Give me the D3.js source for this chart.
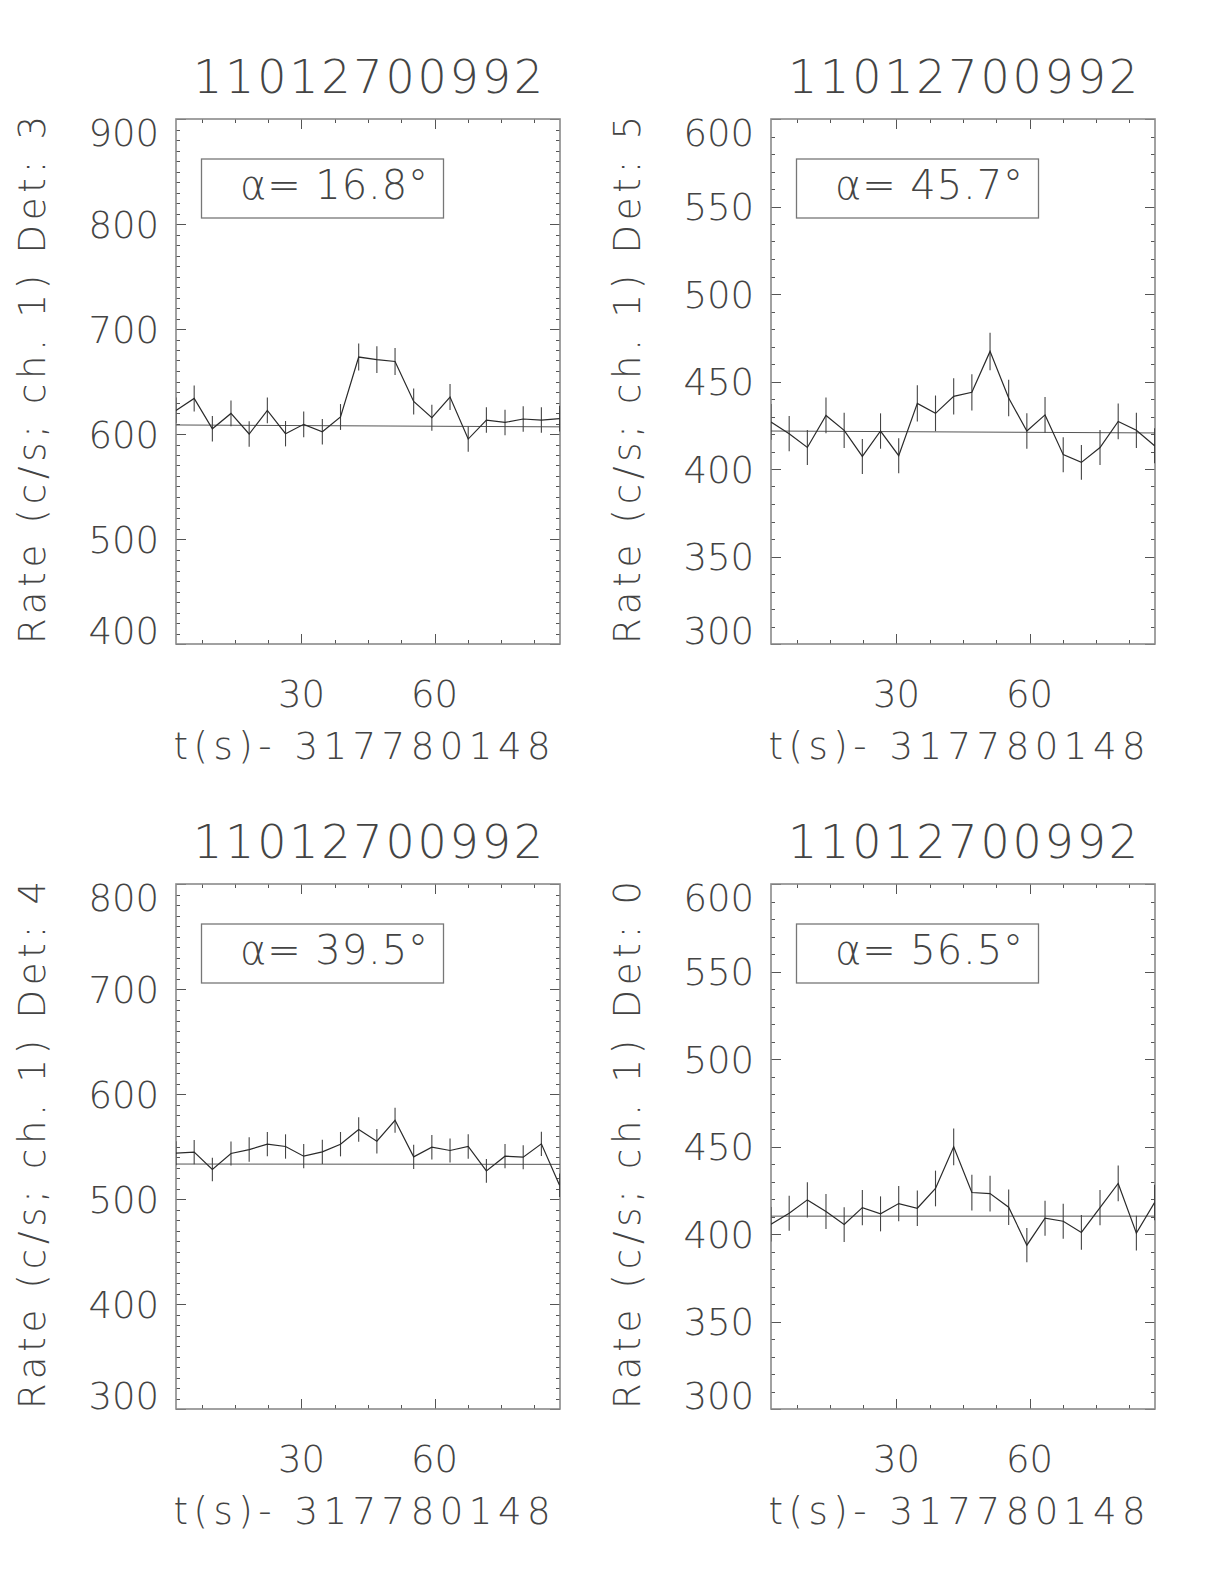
<!DOCTYPE html>
<html><head><meta charset="utf-8">
<script src="https://cdn.jsdelivr.net/npm/d3@7"></script>
<style>
body{margin:0;background:#fff}
text{font-family:'DejaVu Sans',sans-serif;font-weight:200;fill:#444}
</style>
</head><body>
<svg id="c" width="1224" height="1584"></svg>
<script>
// ---- data ----
const times = [1.7, 5.8, 9.9, 14.1, 18.2, 22.3, 26.4, 30.5, 34.7, 38.8, 42.9, 47.0, 51.1, 55.3, 59.4, 63.5, 67.6, 71.7, 75.9, 80.0, 84.1, 88.2];
const det3 = [622.5, 633.9, 605.0, 619.6, 600.0, 622.5, 600.3, 609.2, 602.2, 616.2, 673.3, 670.8, 669.1, 631.0, 615.5, 635.2, 595.2, 613.3, 611.0, 614.3, 613.3, 614.6];
const det3Err = [12.3,12.4,12.1,12.3,12.1,12.3,12.1,12.2,12.1,12.3,12.8,12.8,12.8,12.4,12.3,12.4,12.0,12.2,12.2,12.2,12.2,12.2];
const det5 = [426.9, 420.2, 412.3, 430.6, 422.1, 407.2, 421.7, 407.6, 437.5, 431.8, 441.5, 443.8, 467.2, 440.6, 421.7, 430.9, 408.2, 403.8, 412.3, 427.2, 422.1, 413.3];
const det5Err = [10.2,10.1,10.0,10.2,10.1,10.0,10.1,10.0,10.3,10.2,10.4,10.4,10.7,10.4,10.1,10.2,10.0,9.9,10.0,10.2,10.1,10.0];
const det4 = [543.6, 544.6, 528.1, 543.3, 547.1, 552.2, 550.0, 540.8, 544.9, 552.2, 566.2, 555.0, 575.0, 540.1, 549.3, 546.2, 550.0, 526.8, 540.8, 539.8, 552.5, 513.1];
const det4Err = [11.5,11.5,11.3,11.5,11.6,11.6,11.6,11.5,11.5,11.6,11.7,11.6,11.8,11.5,11.6,11.5,11.6,11.3,11.5,11.5,11.6,11.2];
const det0 = [405.6, 411.9, 419.5, 412.9, 405.4, 415.1, 411.5, 417.4, 414.7, 426.0, 449.8, 423.7, 423.1, 415.3, 393.6, 409.0, 407.3, 400.9, 415.1, 428.9, 400.5, 418.0];
const det0Err = [9.9,10.0,10.1,10.0,9.9,10.1,10.0,10.1,10.1,10.2,10.5,10.2,10.2,10.1,9.8,10.0,10.0,9.9,10.1,10.2,9.9,10.1];
const bg3 = [608.6, 606.8];
const bg5 = [421.7, 420.6];
const bg4 = [533.3, 533.0];
const bg0 = [410.2, 410.2];
const detNames = [3, 5, 4, 0];
const alphas = ["16.8", "45.7", "39.5", "56.5"];
const titleText = "11012700992";
const xTitle = "t(s)- 317780148";
const xRange = [1.7, 88.3];
const xTicks = [30, 60];
const xMinorStep = 7.5;
const yRanges = [[400, 900], [300, 600], [300, 800], [300, 600]];
const yTicks = [
  [400, 500, 600, 700, 800, 900],
  [300, 350, 400, 450, 500, 550, 600],
  [300, 400, 500, 600, 700, 800],
  [300, 350, 400, 450, 500, 550, 600]
];
const yMinorStep = 10;

const series = [det3, det5, det4, det0];
const errs = [det3Err, det5Err, det4Err, det0Err];
const bgs = [bg3, bg5, bg4, bg0];

// ---- layout ----
const PW = 384, PH = 525;
const origins = [[176, 119], [771, 119], [176, 884], [771, 884]];
const svg = d3.select("#c");
const frameCol = "#8a8a8a", inkCol = "#2a2a2a";

series.forEach((vals, k) => {
  const [L, T] = origins[k];
  const g = svg.append("g");
  const xs = d3.scaleLinear().domain(xRange).range([L, L + PW]);
  const ys = d3.scaleLinear().domain(yRanges[k]).range([T + PH, T]);

  const clipId = "clip" + k;
  svg.append("clipPath").attr("id", clipId).append("rect")
    .attr("x", L).attr("y", T).attr("width", PW).attr("height", PH);

  // ticks (inward, all four sides)
  const xMinor = d3.range(xMinorStep, xRange[1], xMinorStep).filter(v => v > xRange[0] && !xTicks.includes(v));
  const yMinor = d3.range(yRanges[k][0], yRanges[k][1] + 0.01, yMinorStep).filter(v => !yTicks[k].includes(v));
  const tk = g.append("g").attr("stroke", "#555").attr("stroke-width", 1).attr("shape-rendering", "crispEdges");
  const xt = [...xMinor.map(v => [v, 4]), ...xTicks.map(v => [v, 10])];
  xt.forEach(([v, len]) => {
    const x = Math.round(xs(v)) + 0.5;
    tk.append("line").attr("x1", x).attr("x2", x).attr("y1", T + PH).attr("y2", T + PH - len);
    tk.append("line").attr("x1", x).attr("x2", x).attr("y1", T).attr("y2", T + len);
  });
  const yt = [...yMinor.map(v => [v, 4]), ...yTicks[k].map(v => [v, 10])];
  yt.forEach(([v, len]) => {
    const y = Math.round(ys(v)) + 0.5;
    tk.append("line").attr("x1", L).attr("x2", L + len).attr("y1", y).attr("y2", y);
    tk.append("line").attr("x1", L + PW).attr("x2", L + PW - len).attr("y1", y).attr("y2", y);
  });

  // frame
  g.append("rect").attr("x", L).attr("y", T).attr("width", PW).attr("height", PH)
    .attr("fill", "none").attr("stroke", frameCol).attr("stroke-width", 1.6);

  const dg = g.append("g").attr("clip-path", `url(#${clipId})`);
  // background fit line
  dg.append("line")
    .attr("x1", xs(xRange[0])).attr("x2", xs(xRange[1]))
    .attr("y1", ys(bgs[k][0])).attr("y2", ys(bgs[k][1]))
    .attr("stroke", "#555").attr("stroke-width", 1);
  // error bars
  dg.selectAll(".eb").data(vals).enter().append("line")
    .attr("x1", (d, i) => xs(times[i])).attr("x2", (d, i) => xs(times[i]))
    .attr("y1", (d, i) => ys(d - errs[k][i])).attr("y2", (d, i) => ys(d + errs[k][i]))
    .attr("stroke", "#444").attr("stroke-width", 1.1);
  // light curve
  const line = d3.line().x((d, i) => xs(times[i])).y(d => ys(d));
  dg.append("path").datum(vals).attr("d", line)
    .attr("fill", "none").attr("stroke", inkCol).attr("stroke-width", 1.2);

  // y tick labels
  yTicks[k].forEach(v => {
    let b = ys(v) + 13.5;
    b = Math.max(T + 27, Math.min(T + PH, b));
    g.append("text").attr("x", L - 17).attr("y", b).attr("text-anchor", "end")
      .attr("font-size", 37).text(v);
  });
  // x tick labels
  xTicks.forEach(v => {
    g.append("text").attr("x", xs(v)).attr("y", T + PH + 63).attr("text-anchor", "middle")
      .attr("font-size", 37).text(v);
  });
  // x title
  g.append("text").attr("x", L + 186).attr("y", T + PH + 115).attr("text-anchor", "middle")
    .attr("font-size", 37).attr("textLength", 377).attr("lengthAdjust", "spacing").text(xTitle);
  // y title
  g.append("text").attr("transform", `translate(${L - 131},${T + 261}) rotate(-90)`)
    .attr("text-anchor", "middle").attr("font-size", 37)
    .attr("textLength", 528).attr("lengthAdjust", "spacing")
    .text(`Rate (c/s; ch. 1) Det: ${detNames[k]}`);
  // title
  g.append("text").attr("x", L + 192).attr("y", T - 26).attr("text-anchor", "middle")
    .attr("font-size", 46).attr("textLength", 350).attr("lengthAdjust", "spacing").text(titleText);
  // alpha box
  g.append("rect").attr("x", L + 25.5).attr("y", T + 40).attr("width", 242).attr("height", 59)
    .attr("fill", "none").attr("stroke", "#777").attr("stroke-width", 1.3);
  g.append("text").attr("x", L + 64).attr("y", T + 80).attr("font-size", 40)
    .attr("textLength", 188).attr("lengthAdjust", "spacing")
    .text("α= " + alphas[k] + "°");
});
</script>
</body></html>
